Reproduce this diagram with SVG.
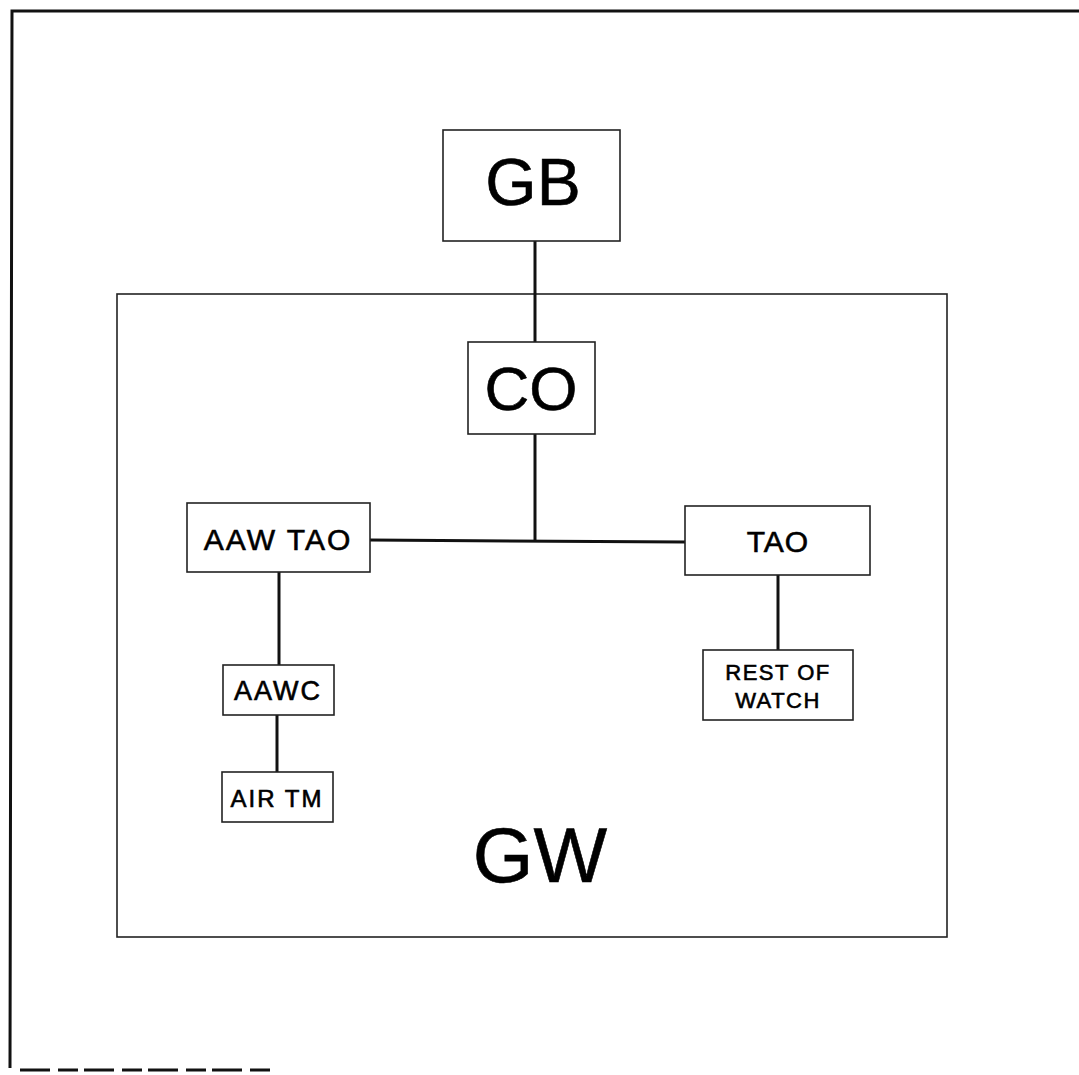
<svg xmlns="http://www.w3.org/2000/svg" width="1079" height="1075" viewBox="0 0 1079 1075">
<style>
.box{fill:none;stroke:#222;stroke-width:1.6}
.frame{fill:none;stroke:#111;stroke-width:3}
.conn{stroke:#111;stroke-width:3;fill:none}
text{font-family:"Liberation Sans",Arial,sans-serif;fill:#000;stroke:#000;stroke-width:0.6;text-anchor:middle}
</style>
<rect width="1079" height="1075" fill="#fff"/>
<g id="frame">
<path class="frame" d="M1079 11 L12 11 L10 1068"/>
<path class="frame" d="M20 1070 L270 1070" stroke-width="2" stroke-dasharray="30 8 20 6"/>
</g>
<g id="GW">
<rect class="box" x="117" y="294" width="830" height="643"/>
<text x="540" y="882" font-size="78" stroke-width="1">GW</text>
</g>
<g id="connectors">
<path class="conn" d="M535 241 V342"/>
<path class="conn" d="M535 434 V540"/>
<path class="conn" d="M370 540 L685 542"/>
<path class="conn" d="M279 572 V665"/>
<path class="conn" d="M277 715 V772"/>
<path class="conn" d="M778 575 V650"/>
</g>
<g id="GB">
<rect class="box" x="443" y="130" width="177" height="111"/>
<text x="533" y="205" font-size="66" stroke-width="1">GB</text>
</g>
<g id="CO">
<rect class="box" x="468" y="342" width="127" height="92"/>
<text x="531" y="410" font-size="62" stroke-width="1">CO</text>
</g>
<g id="AAWTAO">
<rect class="box" x="187" y="503" width="183" height="69"/>
<text x="278" y="550" font-size="30" letter-spacing="2">AAW TAO</text>
</g>
<g id="TAO">
<rect class="box" x="685" y="506" width="185" height="69"/>
<text x="778" y="552" font-size="30" letter-spacing="1">TAO</text>
</g>
<g id="AAWC">
<rect class="box" x="223" y="665" width="111" height="50"/>
<text x="278" y="700" font-size="27" letter-spacing="2">AAWC</text>
</g>
<g id="AIRTM">
<rect class="box" x="222" y="772" width="111" height="50"/>
<text x="277" y="807" font-size="24" letter-spacing="2">AIR TM</text>
</g>
<g id="REST">
<rect class="box" x="703" y="650" width="150" height="70"/>
<text x="778" y="680" font-size="22" letter-spacing="1.5">REST OF</text>
<text x="778" y="708" font-size="22" letter-spacing="1.5">WATCH</text>
</g>
</svg>
